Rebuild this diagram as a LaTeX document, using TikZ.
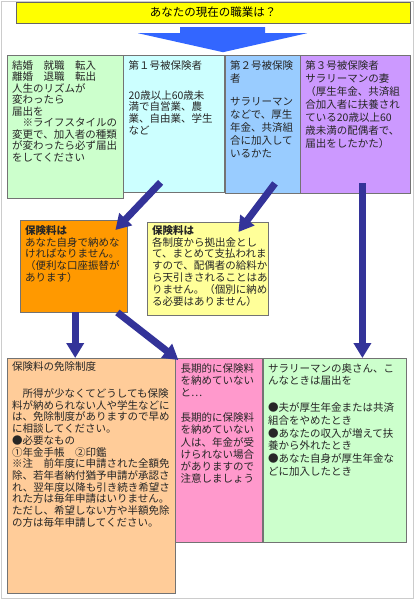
\documentclass[tikz,border=0pt]{standalone}
\usepackage{fontspec}
\setmainfont{Noto Sans CJK JP}
\usepackage{tikz}
\usetikzlibrary{arrows.meta, positioning}

\definecolor{titleyellow}{HTML}{FFFF00}
\definecolor{lifegreen}{HTML}{CCFFCC}
\definecolor{cyanbox}{HTML}{CCFFFF}
\definecolor{bluebox}{HTML}{99CCFF}
\definecolor{purplebox}{HTML}{CC99FF}
\definecolor{orangebox}{HTML}{FF9900}
\definecolor{yellowbox}{HTML}{FFFF99}
\definecolor{peachbox}{HTML}{FFCC99}
\definecolor{pinkbox}{HTML}{FF99CC}
\definecolor{navyarrow}{HTML}{333399}
\definecolor{bigblue}{HTML}{3366FF}

\begin{document}
\begin{tikzpicture}[
    x=1pt, y=-1pt,
    box/.style={rectangle, draw=black!55, anchor=north west, align=left,
                inner xsep=5pt, inner ysep=5pt, text height=9pt,
                text=black!85, font=\fontsize{10.5}{11.8}\selectfont},
    spread/.style={font=\fontsize{10.5}{13}\selectfont},
    arrow/.style={-{Triangle[width=17pt, length=15pt]}, line width=7pt, draw=navyarrow}
]

\useasboundingbox (0,0) rectangle (415,600);
\draw[black!20, fill=white] (1.5,1.5) rectangle (413.5,598.5);

\node[draw=black!60, fill=titleyellow, minimum width=394pt, minimum height=21pt,
      font=\fontsize{11.5}{13}\selectfont] (title) at (213,12.5) {あなたの現在の職業は？};

\fill[bigblue] (title.south) ++(-33,4) -- ++(85,0) -- ++(0,6) -- ++(42,0)
    -- ++(-84,19) -- ++(-85,-19) -- ++(42,0) -- cycle;

\node[box, fill=lifegreen, text width=106pt, text depth=124pt, font=\fontsize{10.5}{11.5}\selectfont]
    (life) at (7,55) {結婚　就職　転入\\離婚　退職　転出\\人生のリズムが\\変わったら\\届出を\\
    　※ライフスタイルの\\変更で、加入者の種類\\が変わったら必ず届出\\をしてください};
\node[box, fill=cyanbox, text width=91pt, text depth=118pt,
      right=0pt of life.north east, anchor=north west]
    (cat1) {第１号被保険者\\[18pt]20歳以上60歳未\\満で自営業、農\\業、自由業、学生\\など};
\node[box, spread, fill=bluebox, text width=65pt, text depth=119pt,
      right=0pt of cat1.north east, anchor=north west]
    (cat2) {第２号被保険\\者\\[10pt]サラリーマン\\などで、厚生\\年金、共済組\\合に加入して\\いるかた};
\node[box, spread, fill=purplebox, text width=100pt, text depth=119pt,
      right=0pt of cat2.north east, anchor=north west]
    (cat3) {第３号被保険者\\サラリーマンの妻\\（厚生年金、共済組\\合加入者に扶養され\\ている20歳以上60\\
    歳未満の配偶者で、\\届出をしたかた）};

\node[box, fill=orangebox, text width=97pt, text depth=73pt]
    (pay) at (20,220) {\textbf{保険料は}\\あなた自身で納めな\\ければなりません。\\（便利な口座振替が\\あります）};
\node[box, fill=yellowbox, text width=111pt, text depth=76pt, text height=7pt]
    (deduct) at (147,222) {\textbf{保険料は}\\各制度から拠出金とし\\て、まとめて支払われま\\すので、配偶者の給料か\\
    ら天引きされることはあ\\りません。（個別に納め\\る必要はありません）};

\node[box, fill=peachbox, text width=158pt, text depth=218pt, text height=7pt,
      font=\fontsize{10.5}{11.7}\selectfont]
    (exempt) at (7,358) {保険料の免除制度\\[15.6pt]　所得が少なくてどうしても保険\\料が納められない人や学生などに\\
    は、免除制度がありますので早め\\に相談してください。\\●必要なもの\\①年金手帳　②印鑑\\
    ※注　前年度に申請された全額免\\除、若年者納付猶予申請が承認さ\\れ、翌年度以降も引き続き希望さ\\
    れた方は毎年申請はいりません。\\ただし、希望しない方や半額免除\\の方は毎年申請してください。};
\node[box, fill=pinkbox, text width=77pt, text depth=165pt, font=\fontsize{10.5}{12.2}\selectfont,
      right=0pt of exempt.north east, anchor=north west]
    (unpaid) {長期的に保険料\\を納めていない\\と…\\[12.8pt]長期的に保険料\\を納めていない\\人は、年金が受\\
    けられない場合\\がありますので\\注意しましょう};
\node[box, fill=lifegreen, text width=133pt, text depth=165pt, font=\fontsize{10.5}{12.7}\selectfont,
      right=0pt of unpaid.north east, anchor=north west]
    (notice) {サラリーマンの奥さん、こ\\んなときは届出を\\[14pt]●夫が厚生年金または共済\\組合をやめたとき\\
    ●あなたの収入が増えて扶\\養から外れたとき\\●あなた自身が厚生年金な\\どに加入したとき};

\draw[arrow] ([xshift=-13.5pt, yshift=10pt]cat1.south) -- ([xshift=-12pt, yshift=-10pt]pay.north east);
\draw[arrow] ([xshift=12.5pt, yshift=10pt]cat2.south) -- ([xshift=-30pt, yshift=-10pt]deduct.north east);
\draw[arrow] ([xshift=7pt, yshift=10pt]cat3.south) -- ([xshift=7pt]cat3.south |- notice.north);
\draw[arrow] ([xshift=1.5pt]pay.south) -- ([xshift=1.5pt]pay.south |- exempt.north);
\draw[arrow] ([xshift=-10pt]pay.south east) -- ([xshift=3pt, yshift=-2pt]unpaid.north west);

\end{tikzpicture}
\end{document}
